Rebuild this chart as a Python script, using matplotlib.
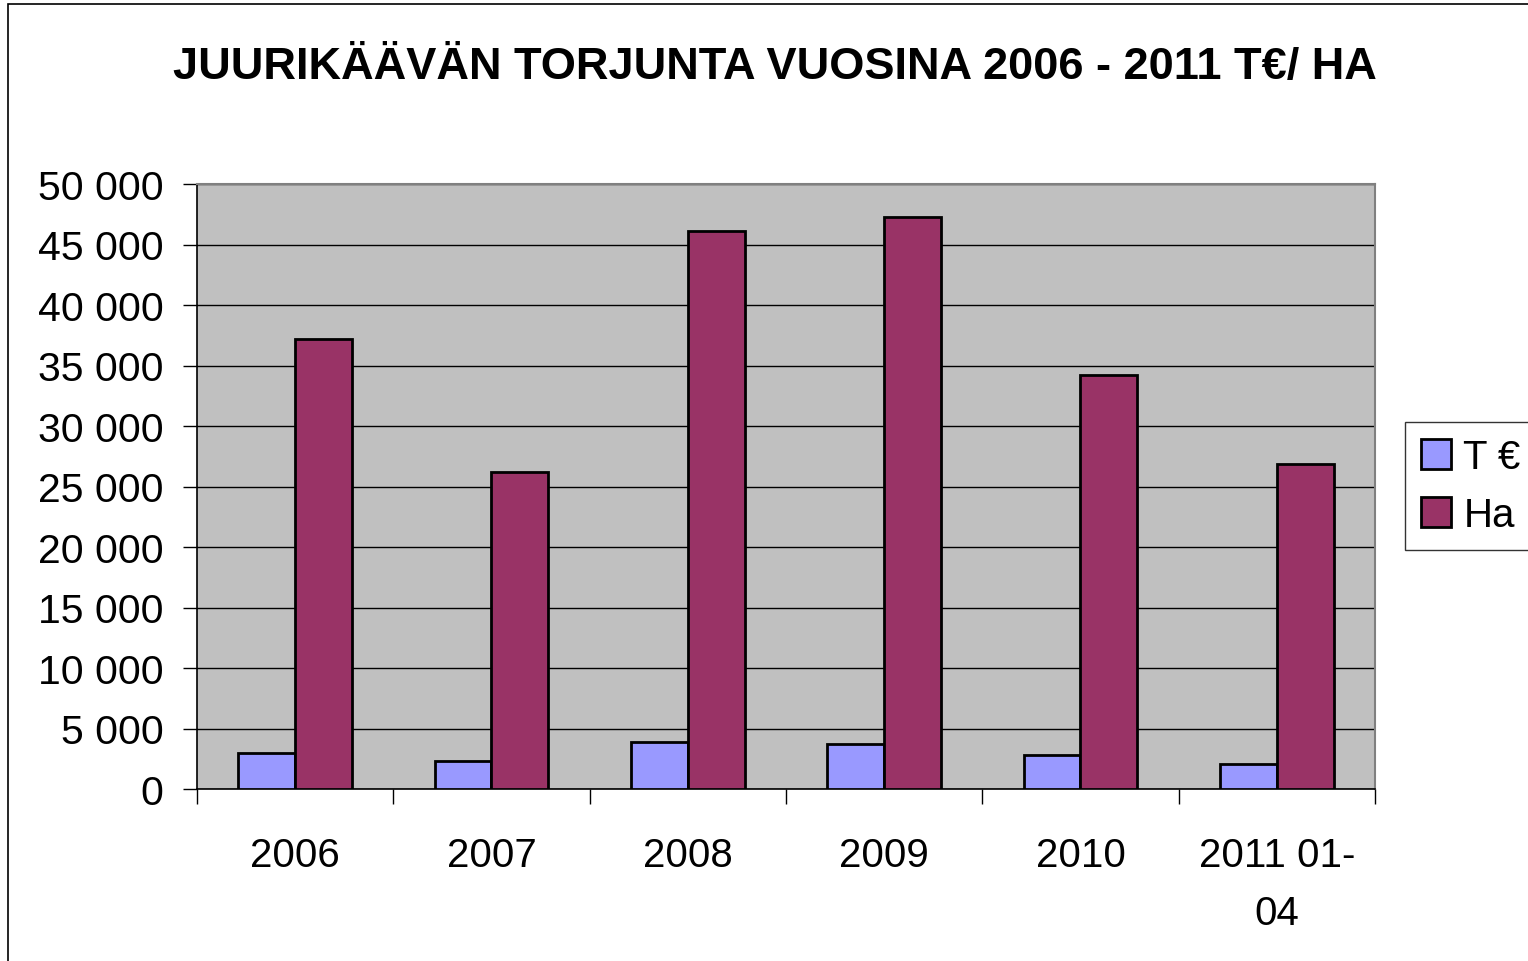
import numpy as np
import matplotlib
matplotlib.use("Agg")
import matplotlib.pyplot as plt
from matplotlib.patches import Rectangle
from matplotlib.ticker import FuncFormatter

plt.rcParams["font.family"] = ["Liberation Sans", "DejaVu Sans"]

categories = ["2006", "2007", "2008", "2009", "2010", "2011 01-\n04"]
teur = [3000, 2300, 3900, 3680, 2770, 2080]
ha = [37150, 26200, 46150, 47300, 34200, 26850]

fig = plt.figure(figsize=(15.28, 9.62), dpi=100)
ax = fig.add_axes([197 / 1528, 1 - 790 / 962, (1375 - 197) / 1528, (790 - 185) / 962])

x = np.arange(len(categories))
w = 0.29
ax.bar(x - w / 2, teur, w, color="#9999FF", edgecolor="black", linewidth=2, label="T €", zorder=3)
ax.bar(x + w / 2, ha, w, color="#993366", edgecolor="black", linewidth=2, label="Ha", zorder=3)

ax.set_facecolor("#C0C0C0")
ax.set_xlim(-0.5, len(categories) - 0.5)
ax.set_ylim(0, 50000)
ax.set_yticks(np.arange(0, 50001, 5000))
ax.yaxis.set_major_formatter(FuncFormatter(lambda v, p: f"{int(v):,}".replace(",", " ")))
ax.yaxis.grid(True, color="black", linewidth=1, zorder=0)
ax.set_axisbelow(True)

# ticks between categories, labels at centres
ax.set_xticks(np.arange(-0.5, len(categories), 1))
ax.set_xticklabels([])
ax.set_xticks(x, minor=True)
ax.set_xticklabels(categories, minor=True, fontsize=29, linespacing=1.65)
ax.tick_params(axis="x", which="minor", length=0, pad=34)
ax.tick_params(axis="x", which="major", length=11, width=1, direction="out")
ax.tick_params(axis="y", length=10, width=1, labelsize=29.5, pad=14)

for s in ["top", "right"]:
    ax.spines[s].set_color("#808080")
    ax.spines[s].set_linewidth(1.5)
for s in ["left", "bottom"]:
    ax.spines[s].set_color("black")
    ax.spines[s].set_linewidth(1.2)

fig.text(775 / 1528, 1 - 67 / 962, "JUURIKÄÄVÄN TORJUNTA VUOSINA 2006 - 2011 T€/ HA",
         ha="center", va="center", fontsize=32.5, fontweight="bold")

leg = fig.legend(loc="center left", bbox_to_anchor=(1405 / 1528, 1 - 487 / 962), fontsize=29,
                 frameon=True, fancybox=False, edgecolor="black", handlelength=0.75,
                 handleheight=0.75, handletextpad=0.3, borderpad=0.4, labelspacing=0.5,
                 borderaxespad=0)
leg.get_frame().set_linewidth(1)

fig.patches.append(Rectangle((8 / 1528, -0.1), 1.1, 1.1 - 5 / 962, transform=fig.transFigure,
                             fill=False, edgecolor="black", linewidth=1.2))

fig.savefig("out.png", dpi=100)
